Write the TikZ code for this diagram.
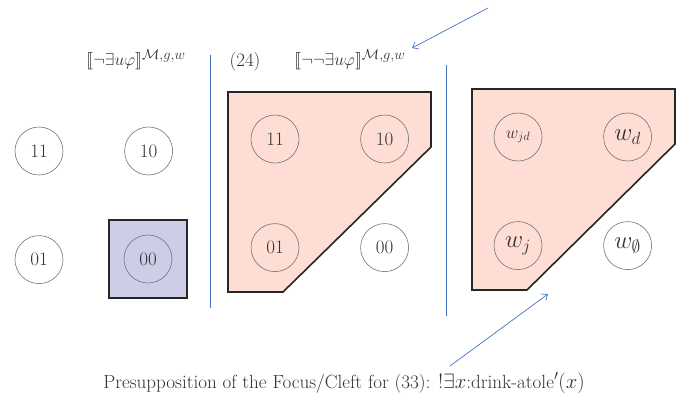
\documentclass[tikz,border=0pt]{standalone}
\usepackage{amsmath,amssymb,stmaryrd}
\usetikzlibrary{arrows.meta, positioning}

\definecolor{cellpink}{RGB}{253,221,212}
\definecolor{cellblue}{RGB}{205,205,232}
\definecolor{lineblue}{RGB}{68,114,196}

\begin{document}
\begin{tikzpicture}[
    x=1pt, y=-1pt,
    node distance={60pt and 61pt},
    world/.style={circle, draw=black!55, line width=0.6pt, minimum size=48pt, inner sep=0pt, text=black!80, font=\fontsize{19}{19}\selectfont},
    bigworld/.style={world, font=\fontsize{24}{24}\selectfont},
    region/.style={draw=black!85, line width=1.6pt, line join=miter},
    selbox/.style={rectangle, draw=black!85, line width=1.6pt, fill=cellblue, minimum size=78pt},
    sep/.style={draw=lineblue, line width=0.8pt},
    pointer/.style={draw=lineblue, line width=0.7pt, -{Straight Barb[length=5pt,width=8pt]}},
    heading/.style={text=black!80, font=\fontsize{19}{21}\selectfont},
    caption/.style={text=black!80, font=\fontsize{19.1}{21}\selectfont}
]
\useasboundingbox (0,0) rectangle (685,405);

% separators
\draw[sep] (210,55) -- (210,308);
\draw[sep] (446,65) -- (446,316);

% headings
\node[heading] (lab1) at (136,60) {$\llbracket\neg\exists u\varphi\rrbracket^{\mathcal{M},g,w}$};
\node[heading] (num) at (245,62) {(24)};
\node[heading] (lab2) at (350,60) {$\llbracket\neg\neg\exists u\varphi\rrbracket^{\mathcal{M},g,w}$};

% left: the four worlds, 00 selected
\node[world] (l11) at (39,151) {11};
\node[world, right=of l11] (l10) {10};
\node[world, below=of l11] (l01) {01};
\node[selbox] (sel) at (148,259) {};
\node[world] (l00) at (sel) {00};

% middle: region without 00
\filldraw[region, fill=cellpink] (228,92) -- (431,92) -- (431,147) -- (283,292) -- (228,292) -- cycle;
\node[world] (m11) at (275,139) {11};
\node[world, right=of m11] (m10) {10};
\node[world, below=of m11] (m01) {01};
\node[world, right=of m01] (m00) {00};

% right: same region with named worlds
\filldraw[region, fill=cellpink] (472,89) -- (675,89) -- (675,144) -- (527,290) -- (472,290) -- cycle;
\node[world, font=\fontsize{18}{18}\selectfont] (wjd) at (518,137) {$w_{jd}$};
\node[bigworld, right=of wjd] (wd) {$w_d$};
\node[bigworld, below=of wjd] (wj) {$w_j$};
\node[bigworld, right=of wj] (wnone) {$w_\emptyset$};

% pointers
\coordinate (topTail) at (488,8);
\coordinate (topTip) at (412,48);
\coordinate (lowTail) at (450,366);
\coordinate (lowTip) at (548,294);
\draw[pointer] (topTail) -- (topTip);
\draw[pointer] (lowTail) -- (lowTip);

\node[caption] (cap) at (344,383) {Presupposition of the Focus/Cleft for (33): $!\exists x$:drink-atole$'(x)$};
\end{tikzpicture}
\end{document}
